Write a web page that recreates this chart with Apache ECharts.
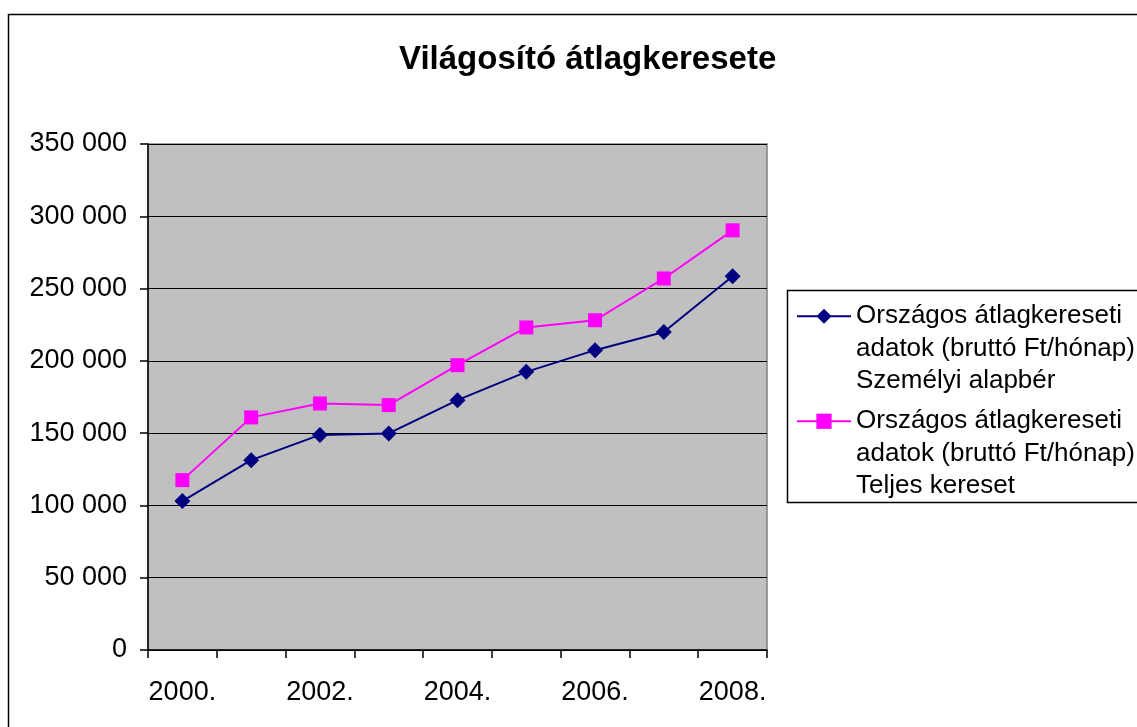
<!DOCTYPE html>
<html>
<head>
<meta charset="utf-8">
<script src="https://cdn.jsdelivr.net/npm/echarts@6/dist/echarts.min.js"></script>
<style>html,body{margin:0;padding:0;background:#fff}#c{width:1137px;height:727px}</style>
</head>
<body>
<div id="c"></div>
<script>
var categories = ['2000.', '2001.', '2002.', '2003.', '2004.', '2005.', '2006.', '2007.', '2008.'];
var alapber = [103000, 131300, 148800, 149800, 172800, 192400, 207400, 220000, 258500];
var teljes = [117500, 160900, 170500, 169400, 197000, 223100, 228100, 257000, 290300];
var seriesNames = [
  'Országos átlagkereseti\nadatok (bruttó Ft/hónap)\nSzemélyi alapbér',
  'Országos átlagkereseti\nadatok (bruttó Ft/hónap)\nTeljes kereset'
];
var yTicks = { min: 0, max: 350000, interval: 50000 };

var FONT = '"Liberation Sans", Arial, sans-serif';
var chart = echarts.init(document.getElementById('c'), null, { renderer: 'canvas' });
chart.setOption({
  animation: false,
  backgroundColor: '#fff',
  textStyle: { fontFamily: FONT },
  title: {
    text: 'Világosító átlagkeresete',
    left: 394, top: 38,
    textStyle: { fontFamily: FONT, fontSize: 33, fontWeight: 'bold', color: '#000' }
  },
  graphic: [
    { type: 'rect', shape: { x: 8.5, y: 14.5, width: 1200, height: 800 }, style: { fill: 'none', stroke: '#000', lineWidth: 1.5 }, z: 0 },
    { type: 'rect', shape: { x: 787.5, y: 290.5, width: 400, height: 212 }, style: { fill: 'none', stroke: '#000', lineWidth: 1.5 }, z: 0 }
  ],
  legend: {
    orient: 'vertical',
    left: 796, top: 235,
    padding: 0,
    itemGap: -57.5,
    itemWidth: 54,
    itemHeight: 19,
    data: seriesNames,
    formatter: function (name) { return '\n\n' + name; },
    textStyle: { fontFamily: FONT, fontSize: 26, lineHeight: 32.5, color: '#000' }
  },
  grid: {
    left: 148, right: 370, top: 144, bottom: 77,
    show: true, backgroundColor: '#c0c0c0', borderColor: '#808080', borderWidth: 1.5
  },
  xAxis: {
    type: 'category',
    data: categories,
    boundaryGap: true,
    axisLine: { lineStyle: { color: '#000', width: 1.5 } },
    axisTick: { show: true, interval: 0, length: 8, lineStyle: { color: '#000', width: 1.5 } },
    axisLabel: { interval: 1, margin: 29, fontFamily: FONT, fontSize: 27, color: '#000' },
    splitLine: { show: false }
  },
  yAxis: {
    type: 'value',
    min: yTicks.min, max: yTicks.max, interval: yTicks.interval,
    axisLine: { show: true, lineStyle: { color: '#000', width: 1.5 } },
    axisTick: { show: true, length: 8, lineStyle: { color: '#000', width: 1.5 } },
    axisLabel: {
      margin: 21, fontFamily: FONT, fontSize: 27, color: '#000',
      formatter: function (v) { return String(v).replace(/\B(?=(\d{3})+(?!\d))/g, ' '); }
    },
    splitLine: { show: true, lineStyle: { color: '#000', width: 1.2 } }
  },
  series: [
    {
      name: seriesNames[0], type: 'line', data: alapber,
      symbol: 'diamond', symbolSize: 16, showAllSymbol: true,
      lineStyle: { color: '#000080', width: 2 },
      itemStyle: { color: '#000080' }
    },
    {
      name: seriesNames[1], type: 'line', data: teljes,
      symbol: 'rect', symbolSize: 14, showAllSymbol: true,
      lineStyle: { color: '#ff00ff', width: 2 },
      itemStyle: { color: '#ff00ff' }
    }
  ]
});
</script>
</body>
</html>
